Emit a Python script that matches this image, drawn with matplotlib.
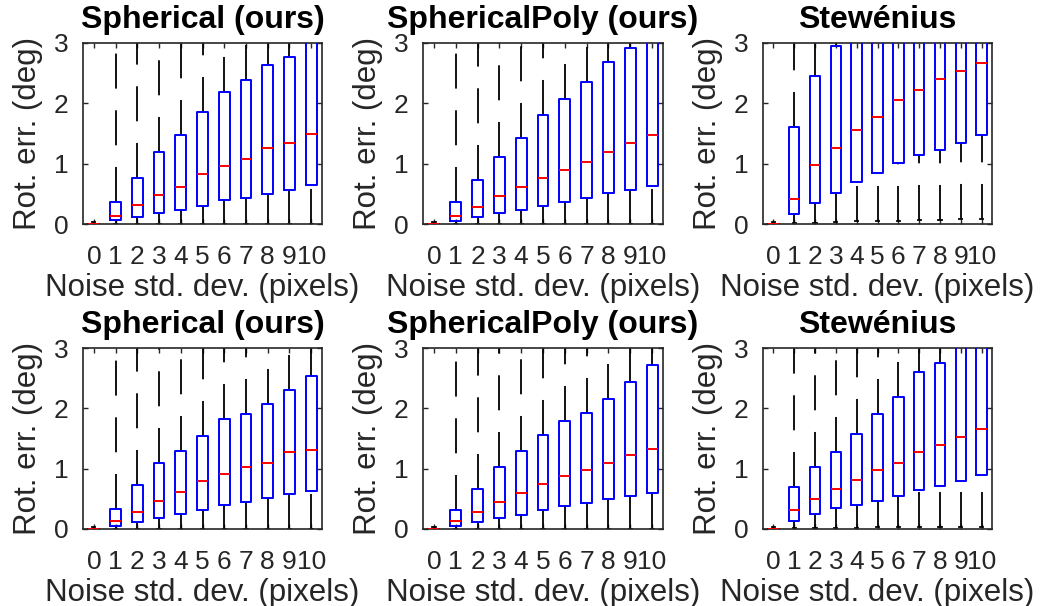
import matplotlib.pyplot as plt

plt.rcParams['font.family'] = ['Liberation Sans', 'DejaVu Sans']

noise = [0, 1, 2, 3, 4, 5, 6, 7, 8, 9, 10]
titles = ["Spherical (ours)", "SphericalPoly (ours)", "Stewénius"]
xlabel = "Noise std. dev. (pixels)"
ylabel = "Rot. err. (deg)"

# top row, Spherical
s1_q1 = [0.0, 0.06, 0.12, 0.18, 0.24, 0.30, 0.39, 0.43, 0.50, 0.57, 0.65]
s1_med = [0.003, 0.14, 0.31, 0.48, 0.62, 0.83, 0.96, 1.08, 1.26, 1.35, 1.50]
s1_q3 = [0.005, 0.37, 0.77, 1.19, 1.48, 1.85, 2.18, 2.38, 2.64, 2.76, 3.10]
s1_lo = [0.0, 0.005, 0.005, 0.005, 0.005, 0.005, 0.005, 0.005, 0.005, 0.005, 0.005]
s1_hi = [0.04, 3.3, 3.5, 3.6, 3.8, 4.0, 4.2, 4.4, 4.6, 4.8, 5.0]

# top row, SphericalPoly
p1_q1 = [0.0, 0.055, 0.11, 0.18, 0.23, 0.30, 0.37, 0.43, 0.52, 0.57, 0.63]
p1_med = [0.003, 0.13, 0.29, 0.46, 0.62, 0.77, 0.89, 1.03, 1.20, 1.35, 1.47]
p1_q3 = [0.005, 0.37, 0.73, 1.11, 1.42, 1.81, 2.07, 2.35, 2.68, 2.91, 3.10]
p1_lo = [0.0, 0.005, 0.005, 0.005, 0.005, 0.005, 0.005, 0.005, 0.005, 0.005, 0.005]
p1_hi = [0.04, 3.3, 3.5, 3.6, 3.8, 4.0, 4.2, 4.4, 4.6, 4.8, 5.0]

# top row, Stewenius
t1_q1 = [0.0, 0.16, 0.34, 0.52, 0.69, 0.85, 1.01, 1.15, 1.23, 1.35, 1.47]
t1_med = [0.003, 0.41, 0.97, 1.26, 1.55, 1.78, 2.06, 2.22, 2.40, 2.53, 2.67]
t1_q3 = [0.005, 1.61, 2.46, 2.95, 3.2, 3.4, 3.6, 3.8, 4.0, 4.2, 4.4]
t1_lo = [0.0, 0.01, 0.02, 0.03, 0.045, 0.05, 0.055, 0.065, 0.07, 0.08, 0.09]
t1_hi = [0.03, 4.0, 5.0, 6.0, 6.5, 7.0, 7.5, 8.0, 8.5, 9.0, 9.5]

# bottom row, Spherical
s2_q1 = [0.0, 0.055, 0.12, 0.18, 0.25, 0.32, 0.40, 0.45, 0.52, 0.58, 0.63]
s2_med = [0.003, 0.13, 0.28, 0.46, 0.62, 0.79, 0.91, 1.02, 1.10, 1.27, 1.31]
s2_q3 = [0.005, 0.33, 0.73, 1.10, 1.29, 1.54, 1.82, 1.90, 2.07, 2.31, 2.53]
s2_lo = [0.0, 0.005, 0.005, 0.005, 0.005, 0.005, 0.005, 0.005, 0.005, 0.005, 0.005]
s2_hi = [0.04, 3.2, 3.4, 3.5, 3.6, 3.7, 3.9, 4.0, 4.1, 4.3, 4.5]

# bottom row, SphericalPoly
p2_q1 = [0.0, 0.055, 0.12, 0.18, 0.24, 0.31, 0.38, 0.43, 0.49, 0.55, 0.59]
p2_med = [0.003, 0.14, 0.28, 0.44, 0.59, 0.75, 0.88, 0.97, 1.09, 1.23, 1.33]
p2_q3 = [0.005, 0.32, 0.67, 1.02, 1.29, 1.56, 1.79, 1.93, 2.16, 2.44, 2.71]
p2_lo = [0.0, 0.005, 0.005, 0.005, 0.005, 0.005, 0.005, 0.005, 0.005, 0.005, 0.005]
p2_hi = [0.04, 3.2, 3.4, 3.5, 3.6, 3.7, 3.9, 4.0, 4.1, 4.3, 4.5]

# bottom row, Stewenius
t2_q1 = [0.0, 0.14, 0.25, 0.34, 0.40, 0.47, 0.54, 0.64, 0.72, 0.80, 0.89]
t2_med = [0.003, 0.31, 0.50, 0.66, 0.81, 0.97, 1.10, 1.28, 1.40, 1.52, 1.66]
t2_q3 = [0.005, 0.69, 1.02, 1.28, 1.57, 1.91, 2.19, 2.60, 2.75, 3.1, 3.3]
t2_lo = [0.0, 0.01, 0.015, 0.02, 0.02, 0.025, 0.025, 0.03, 0.03, 0.035, 0.035]
t2_hi = [0.03, 3.5, 4.0, 4.5, 5.0, 5.5, 6.0, 6.5, 7.0, 7.5, 8.0]

panels = [
    (s1_q1, s1_med, s1_q3, s1_lo, s1_hi),
    (p1_q1, p1_med, p1_q3, p1_lo, p1_hi),
    (t1_q1, t1_med, t1_q3, t1_lo, t1_hi),
    (s2_q1, s2_med, s2_q3, s2_lo, s2_hi),
    (p2_q1, p2_med, p2_q3, p2_lo, p2_hi),
    (t2_q1, t2_med, t2_q3, t2_lo, t2_hi),
]

W, H = 1041, 606
fig = plt.figure(figsize=(W / 100, H / 100), dpi=100)

# axes boxes in pixels (left, right), (top, bottom)
cols = [(83, 322), (423, 663), (763, 992)]
rows = [(43, 224), (348, 529)]

grey = (0.15, 0.15, 0.15)
lw = 1.3

for i, (q1, med, q3, lo, hi) in enumerate(panels):
    r, c = divmod(i, 3)
    x0, x1 = cols[c]
    y0, y1 = rows[r]
    ax = fig.add_axes([x0 / W, 1 - y1 / H, (x1 - x0) / W, (y1 - y0) / H])

    stats = []
    for k in range(len(noise)):
        stats.append(dict(q1=q1[k], med=med[k], q3=q3[k],
                          whislo=lo[k], whishi=hi[k], fliers=[]))
    bp = ax.bxp(stats, positions=noise, widths=0.5, capwidths=0.15,
                showfliers=False, manage_ticks=False,
                boxprops=dict(color='blue', lw=1.4, zorder=3),
                medianprops=dict(color='red', lw=1.4, zorder=4),
                whiskerprops=dict(color='k', lw=lw, linestyle=(0, (19.4, 12.0))),
                capprops=dict(color='k', lw=lw))
    # lower whiskers start their dash pattern at the whisker end
    for w in bp['whiskers'][::2]:
        xd, yd = w.get_data()
        w.set_data(xd[::-1], yd[::-1])

    ax.set_xlim(-0.5, 10.5)
    ax.set_ylim(0, 3)
    ax.set_xticks(noise)
    ax.set_xticklabels([str(n) for n in noise])
    ax.set_yticks([0, 1, 2, 3])
    ax.tick_params(direction='in', top=True, right=True, length=3.5,
                   width=1.0, colors=grey, labelsize=19)
    ax.tick_params(axis='x', pad=15)
    ax.tick_params(axis='y', pad=10.5)
    for s in ax.spines.values():
        s.set_color(grey)
        s.set_linewidth(1.2)

    ax.set_title(titles[c], fontsize=23, fontweight='bold', color='k', pad=11)
    ax.set_xlabel(xlabel, fontsize=22.5, color=grey)
    ax.set_ylabel(ylabel, fontsize=22.5, color=grey)
    ax.xaxis.set_label_coords(0.5, -49 / (y1 - y0))
    ax.yaxis.set_label_coords(-40 / (x1 - x0), 0.5)

fig.savefig("out.png", dpi=100)
